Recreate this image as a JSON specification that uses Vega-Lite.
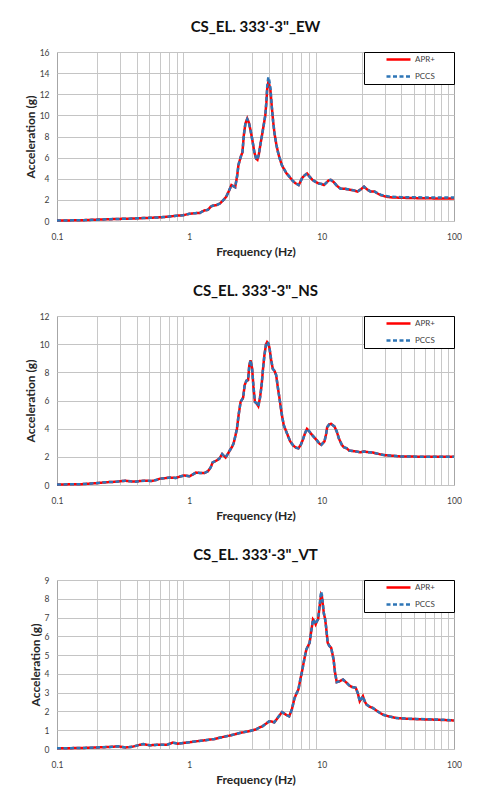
{
  "$schema": "https://vega.github.io/schema/vega-lite/v6.json",
  "background": "white",
  "padding": {"left": 23, "top": 19, "right": 0, "bottom": 0},
  "autosize": {"type": "pad"},
  "spacing": 95,
  "bounds": "flush",
  "config": {
    "font": "Lato",
    "view": {"stroke": "#a6a6a6", "strokeWidth": 1},
    "axis": {"labelFont": "Lato", "titleFont": "Lato", "labelFontSize": 8.5, "titleFontSize": 12, "titleFontWeight": "bold", "labelColor": "#404040", "titleColor": "#262626", "ticks": false, "domain": false, "gridColor": "#c4c4c4", "gridWidth": 1},
    "title": {"font": "Lato", "fontSize": 15, "fontWeight": "bold", "color": "#111111", "offset": 13, "frame": "group", "anchor": "middle"},
    "legend": {"orient": "top-right", "offset": 0, "strokeColor": "black", "fillColor": "white", "padding": 1, "symbolOffset": 20, "symbolType": "stroke", "symbolSize": 576, "symbolStrokeWidth": 2.5, "clipHeight": 13, "rowPadding": 4, "labelFont": "Lato", "labelFontSize": 8, "labelColor": "#404040", "labelOffset": 3, "titleOrient": "right", "titlePadding": 18, "titleFontSize": 4, "titleColor": "white"}
  },
  "resolve": {"scale": {"color": "independent", "strokeDash": "independent"}, "legend": {"color": "independent", "strokeDash": "independent"}},
  "datasets": {
    "ew": [
      {"f": 0.1, "APR+": 0.05, "PCCS": 0.05}, {"f": 0.13, "APR+": 0.06, "PCCS": 0.06}, {"f": 0.16, "APR+": 0.08, "PCCS": 0.08}, {"f": 0.2, "APR+": 0.13, "PCCS": 0.13}, {"f": 0.25, "APR+": 0.17, "PCCS": 0.17}, {"f": 0.3, "APR+": 0.2, "PCCS": 0.2}, {"f": 0.35, "APR+": 0.22, "PCCS": 0.22}, {"f": 0.4, "APR+": 0.25, "PCCS": 0.25}, {"f": 0.45, "APR+": 0.28, "PCCS": 0.28}, {"f": 0.5, "APR+": 0.3, "PCCS": 0.3}, {"f": 0.6, "APR+": 0.35, "PCCS": 0.35}, {"f": 0.7, "APR+": 0.42, "PCCS": 0.42}, {"f": 0.8, "APR+": 0.5, "PCCS": 0.5}, {"f": 0.9, "APR+": 0.55, "PCCS": 0.55}, {"f": 1.0, "APR+": 0.68, "PCCS": 0.68}, {"f": 1.1, "APR+": 0.74, "PCCS": 0.74}, {"f": 1.2, "APR+": 0.76, "PCCS": 0.76}, {"f": 1.25, "APR+": 0.9, "PCCS": 0.9}, {"f": 1.3, "APR+": 1.0, "PCCS": 1.0}, {"f": 1.38, "APR+": 1.05, "PCCS": 1.05}, {"f": 1.45, "APR+": 1.35, "PCCS": 1.35}, {"f": 1.5, "APR+": 1.45, "PCCS": 1.45}, {"f": 1.6, "APR+": 1.5, "PCCS": 1.5}, {"f": 1.7, "APR+": 1.65, "PCCS": 1.65}, {"f": 1.8, "APR+": 1.95, "PCCS": 1.95}, {"f": 1.9, "APR+": 2.3, "PCCS": 2.3}, {"f": 2.0, "APR+": 2.9, "PCCS": 2.9}, {"f": 2.08, "APR+": 3.4, "PCCS": 3.4}, {"f": 2.15, "APR+": 3.3, "PCCS": 3.3}, {"f": 2.22, "APR+": 3.2, "PCCS": 3.2}, {"f": 2.3, "APR+": 4.3, "PCCS": 4.3}, {"f": 2.35, "APR+": 5.3, "PCCS": 5.3}, {"f": 2.45, "APR+": 6.1, "PCCS": 6.1}, {"f": 2.52, "APR+": 6.5, "PCCS": 6.5}, {"f": 2.58, "APR+": 8.1, "PCCS": 8.1}, {"f": 2.65, "APR+": 9.2, "PCCS": 9.2}, {"f": 2.74, "APR+": 9.7, "PCCS": 9.65}, {"f": 2.82, "APR+": 9.3, "PCCS": 9.3}, {"f": 2.9, "APR+": 8.6, "PCCS": 8.6}, {"f": 3.0, "APR+": 7.6, "PCCS": 7.6}, {"f": 3.1, "APR+": 6.5, "PCCS": 6.5}, {"f": 3.2, "APR+": 5.9, "PCCS": 5.9}, {"f": 3.27, "APR+": 5.8, "PCCS": 5.8}, {"f": 3.35, "APR+": 6.3, "PCCS": 6.3}, {"f": 3.45, "APR+": 7.3, "PCCS": 7.3}, {"f": 3.55, "APR+": 8.2, "PCCS": 8.2}, {"f": 3.65, "APR+": 9.1, "PCCS": 9.1}, {"f": 3.75, "APR+": 10.0, "PCCS": 10.0}, {"f": 3.82, "APR+": 11.2, "PCCS": 11.3}, {"f": 3.88, "APR+": 12.6, "PCCS": 12.8}, {"f": 3.95, "APR+": 13.1, "PCCS": 13.6}, {"f": 4.02, "APR+": 12.9, "PCCS": 13.3}, {"f": 4.1, "APR+": 12.4, "PCCS": 12.6}, {"f": 4.2, "APR+": 10.8, "PCCS": 10.8}, {"f": 4.3, "APR+": 9.4, "PCCS": 9.4}, {"f": 4.4, "APR+": 8.3, "PCCS": 8.3}, {"f": 4.55, "APR+": 7.2, "PCCS": 7.2}, {"f": 4.7, "APR+": 6.4, "PCCS": 6.4}, {"f": 4.85, "APR+": 5.8, "PCCS": 5.8}, {"f": 5.0, "APR+": 5.3, "PCCS": 5.3}, {"f": 5.2, "APR+": 4.9, "PCCS": 4.9}, {"f": 5.4, "APR+": 4.55, "PCCS": 4.55}, {"f": 5.7, "APR+": 4.2, "PCCS": 4.2}, {"f": 6.0, "APR+": 3.85, "PCCS": 3.85}, {"f": 6.3, "APR+": 3.6, "PCCS": 3.6}, {"f": 6.7, "APR+": 3.4, "PCCS": 3.4}, {"f": 6.9, "APR+": 3.7, "PCCS": 3.7}, {"f": 7.1, "APR+": 4.05, "PCCS": 4.05}, {"f": 7.4, "APR+": 4.3, "PCCS": 4.3}, {"f": 7.75, "APR+": 4.5, "PCCS": 4.5}, {"f": 8.1, "APR+": 4.2, "PCCS": 4.2}, {"f": 8.5, "APR+": 3.9, "PCCS": 3.9}, {"f": 9.0, "APR+": 3.7, "PCCS": 3.7}, {"f": 9.5, "APR+": 3.55, "PCCS": 3.55}, {"f": 10.0, "APR+": 3.5, "PCCS": 3.5}, {"f": 10.4, "APR+": 3.4, "PCCS": 3.4}, {"f": 10.8, "APR+": 3.6, "PCCS": 3.6}, {"f": 11.3, "APR+": 3.85, "PCCS": 3.85}, {"f": 11.7, "APR+": 3.9, "PCCS": 3.9}, {"f": 12.3, "APR+": 3.7, "PCCS": 3.7}, {"f": 13.0, "APR+": 3.35, "PCCS": 3.35}, {"f": 13.9, "APR+": 3.05, "PCCS": 3.05}, {"f": 15.0, "APR+": 3.05, "PCCS": 3.05}, {"f": 16.5, "APR+": 2.95, "PCCS": 2.95}, {"f": 17.5, "APR+": 2.9, "PCCS": 2.9}, {"f": 18.6, "APR+": 2.78, "PCCS": 2.78}, {"f": 19.8, "APR+": 3.0, "PCCS": 3.0}, {"f": 20.9, "APR+": 3.25, "PCCS": 3.25}, {"f": 22.0, "APR+": 3.0, "PCCS": 3.0}, {"f": 23.5, "APR+": 2.78, "PCCS": 2.78}, {"f": 25.0, "APR+": 2.8, "PCCS": 2.8}, {"f": 26.5, "APR+": 2.6, "PCCS": 2.62}, {"f": 27.8, "APR+": 2.46, "PCCS": 2.5}, {"f": 30.0, "APR+": 2.33, "PCCS": 2.38}, {"f": 33.0, "APR+": 2.24, "PCCS": 2.3}, {"f": 40.0, "APR+": 2.2, "PCCS": 2.25}, {"f": 50.0, "APR+": 2.17, "PCCS": 2.24}, {"f": 70.0, "APR+": 2.14, "PCCS": 2.23}, {"f": 100.0, "APR+": 2.12, "PCCS": 2.22}
    ],
    "ns": [
      {"f": 0.1, "APR+": 0.04, "PCCS": 0.04}, {"f": 0.15, "APR+": 0.05, "PCCS": 0.05}, {"f": 0.19, "APR+": 0.12, "PCCS": 0.12}, {"f": 0.22, "APR+": 0.17, "PCCS": 0.17}, {"f": 0.25, "APR+": 0.21, "PCCS": 0.21}, {"f": 0.28, "APR+": 0.23, "PCCS": 0.23}, {"f": 0.31, "APR+": 0.28, "PCCS": 0.28}, {"f": 0.33, "APR+": 0.3, "PCCS": 0.3}, {"f": 0.36, "APR+": 0.26, "PCCS": 0.26}, {"f": 0.39, "APR+": 0.24, "PCCS": 0.24}, {"f": 0.42, "APR+": 0.28, "PCCS": 0.28}, {"f": 0.46, "APR+": 0.31, "PCCS": 0.31}, {"f": 0.52, "APR+": 0.28, "PCCS": 0.28}, {"f": 0.56, "APR+": 0.35, "PCCS": 0.35}, {"f": 0.6, "APR+": 0.45, "PCCS": 0.45}, {"f": 0.65, "APR+": 0.48, "PCCS": 0.48}, {"f": 0.71, "APR+": 0.53, "PCCS": 0.53}, {"f": 0.79, "APR+": 0.5, "PCCS": 0.5}, {"f": 0.85, "APR+": 0.6, "PCCS": 0.6}, {"f": 0.92, "APR+": 0.68, "PCCS": 0.68}, {"f": 1.0, "APR+": 0.62, "PCCS": 0.62}, {"f": 1.05, "APR+": 0.72, "PCCS": 0.72}, {"f": 1.12, "APR+": 0.88, "PCCS": 0.88}, {"f": 1.2, "APR+": 0.86, "PCCS": 0.86}, {"f": 1.3, "APR+": 0.85, "PCCS": 0.85}, {"f": 1.38, "APR+": 0.97, "PCCS": 0.97}, {"f": 1.45, "APR+": 1.25, "PCCS": 1.25}, {"f": 1.5, "APR+": 1.6, "PCCS": 1.6}, {"f": 1.6, "APR+": 1.73, "PCCS": 1.73}, {"f": 1.68, "APR+": 1.85, "PCCS": 1.85}, {"f": 1.77, "APR+": 2.2, "PCCS": 2.2}, {"f": 1.83, "APR+": 2.05, "PCCS": 2.05}, {"f": 1.88, "APR+": 1.95, "PCCS": 1.95}, {"f": 1.95, "APR+": 2.2, "PCCS": 2.2}, {"f": 2.02, "APR+": 2.45, "PCCS": 2.45}, {"f": 2.1, "APR+": 2.7, "PCCS": 2.7}, {"f": 2.16, "APR+": 2.95, "PCCS": 2.95}, {"f": 2.23, "APR+": 3.5, "PCCS": 3.5}, {"f": 2.29, "APR+": 4.0, "PCCS": 4.0}, {"f": 2.36, "APR+": 5.0, "PCCS": 5.0}, {"f": 2.44, "APR+": 5.9, "PCCS": 5.9}, {"f": 2.55, "APR+": 6.2, "PCCS": 6.2}, {"f": 2.62, "APR+": 7.1, "PCCS": 7.1}, {"f": 2.7, "APR+": 7.4, "PCCS": 7.4}, {"f": 2.78, "APR+": 7.45, "PCCS": 7.45}, {"f": 2.84, "APR+": 8.5, "PCCS": 8.5}, {"f": 2.9, "APR+": 8.85, "PCCS": 8.85}, {"f": 2.98, "APR+": 8.3, "PCCS": 8.3}, {"f": 3.05, "APR+": 7.0, "PCCS": 7.0}, {"f": 3.13, "APR+": 5.9, "PCCS": 5.9}, {"f": 3.22, "APR+": 5.8, "PCCS": 5.8}, {"f": 3.32, "APR+": 5.6, "PCCS": 5.6}, {"f": 3.42, "APR+": 6.2, "PCCS": 6.2}, {"f": 3.52, "APR+": 7.1, "PCCS": 7.1}, {"f": 3.6, "APR+": 8.2, "PCCS": 8.2}, {"f": 3.69, "APR+": 9.2, "PCCS": 9.2}, {"f": 3.8, "APR+": 10.0, "PCCS": 10.0}, {"f": 3.87, "APR+": 10.15, "PCCS": 10.15}, {"f": 3.95, "APR+": 10.05, "PCCS": 10.05}, {"f": 4.03, "APR+": 9.75, "PCCS": 9.75}, {"f": 4.15, "APR+": 8.9, "PCCS": 8.9}, {"f": 4.27, "APR+": 8.25, "PCCS": 8.25}, {"f": 4.4, "APR+": 8.1, "PCCS": 8.1}, {"f": 4.53, "APR+": 7.8, "PCCS": 7.8}, {"f": 4.67, "APR+": 6.9, "PCCS": 6.9}, {"f": 4.81, "APR+": 6.1, "PCCS": 6.1}, {"f": 5.0, "APR+": 5.0, "PCCS": 5.0}, {"f": 5.17, "APR+": 4.25, "PCCS": 4.25}, {"f": 5.45, "APR+": 3.7, "PCCS": 3.7}, {"f": 5.78, "APR+": 3.1, "PCCS": 3.1}, {"f": 6.1, "APR+": 2.8, "PCCS": 2.8}, {"f": 6.4, "APR+": 2.65, "PCCS": 2.65}, {"f": 6.67, "APR+": 2.6, "PCCS": 2.6}, {"f": 6.95, "APR+": 2.85, "PCCS": 2.85}, {"f": 7.2, "APR+": 3.2, "PCCS": 3.2}, {"f": 7.5, "APR+": 3.7, "PCCS": 3.7}, {"f": 7.74, "APR+": 3.98, "PCCS": 3.98}, {"f": 8.0, "APR+": 3.85, "PCCS": 3.85}, {"f": 8.3, "APR+": 3.65, "PCCS": 3.65}, {"f": 8.75, "APR+": 3.4, "PCCS": 3.4}, {"f": 9.24, "APR+": 3.15, "PCCS": 3.15}, {"f": 9.6, "APR+": 2.95, "PCCS": 2.95}, {"f": 9.93, "APR+": 2.85, "PCCS": 2.85}, {"f": 10.5, "APR+": 3.1, "PCCS": 3.1}, {"f": 10.8, "APR+": 3.6, "PCCS": 3.6}, {"f": 11.0, "APR+": 4.1, "PCCS": 4.1}, {"f": 11.4, "APR+": 4.3, "PCCS": 4.3}, {"f": 11.8, "APR+": 4.34, "PCCS": 4.34}, {"f": 12.5, "APR+": 4.15, "PCCS": 4.15}, {"f": 13.0, "APR+": 3.8, "PCCS": 3.8}, {"f": 13.5, "APR+": 3.3, "PCCS": 3.3}, {"f": 14.2, "APR+": 2.85, "PCCS": 2.85}, {"f": 14.7, "APR+": 2.68, "PCCS": 2.68}, {"f": 15.5, "APR+": 2.6, "PCCS": 2.6}, {"f": 16.1, "APR+": 2.45, "PCCS": 2.45}, {"f": 17.5, "APR+": 2.4, "PCCS": 2.4}, {"f": 18.6, "APR+": 2.37, "PCCS": 2.37}, {"f": 19.5, "APR+": 2.32, "PCCS": 2.32}, {"f": 20.9, "APR+": 2.38, "PCCS": 2.38}, {"f": 22.0, "APR+": 2.34, "PCCS": 2.34}, {"f": 24.5, "APR+": 2.3, "PCCS": 2.3}, {"f": 27.6, "APR+": 2.18, "PCCS": 2.18}, {"f": 30.0, "APR+": 2.12, "PCCS": 2.12}, {"f": 35.0, "APR+": 2.07, "PCCS": 2.07}, {"f": 40.0, "APR+": 2.02, "PCCS": 2.02}, {"f": 60.0, "APR+": 2.01, "PCCS": 2.01}, {"f": 100.0, "APR+": 2.0, "PCCS": 2.0}
    ],
    "vt": [
      {"f": 0.1, "APR+": 0.04, "PCCS": 0.04}, {"f": 0.15, "APR+": 0.05, "PCCS": 0.05}, {"f": 0.2, "APR+": 0.08, "PCCS": 0.08}, {"f": 0.25, "APR+": 0.11, "PCCS": 0.11}, {"f": 0.29, "APR+": 0.14, "PCCS": 0.14}, {"f": 0.33, "APR+": 0.08, "PCCS": 0.08}, {"f": 0.37, "APR+": 0.12, "PCCS": 0.12}, {"f": 0.42, "APR+": 0.22, "PCCS": 0.22}, {"f": 0.45, "APR+": 0.26, "PCCS": 0.26}, {"f": 0.5, "APR+": 0.2, "PCCS": 0.2}, {"f": 0.59, "APR+": 0.23, "PCCS": 0.23}, {"f": 0.68, "APR+": 0.23, "PCCS": 0.23}, {"f": 0.75, "APR+": 0.34, "PCCS": 0.34}, {"f": 0.82, "APR+": 0.28, "PCCS": 0.28}, {"f": 0.92, "APR+": 0.33, "PCCS": 0.33}, {"f": 1.0, "APR+": 0.36, "PCCS": 0.36}, {"f": 1.1, "APR+": 0.4, "PCCS": 0.4}, {"f": 1.19, "APR+": 0.43, "PCCS": 0.43}, {"f": 1.3, "APR+": 0.46, "PCCS": 0.46}, {"f": 1.42, "APR+": 0.5, "PCCS": 0.5}, {"f": 1.55, "APR+": 0.53, "PCCS": 0.53}, {"f": 1.69, "APR+": 0.6, "PCCS": 0.6}, {"f": 1.85, "APR+": 0.66, "PCCS": 0.66}, {"f": 2.0, "APR+": 0.71, "PCCS": 0.71}, {"f": 2.2, "APR+": 0.78, "PCCS": 0.78}, {"f": 2.4, "APR+": 0.85, "PCCS": 0.85}, {"f": 2.6, "APR+": 0.9, "PCCS": 0.9}, {"f": 2.87, "APR+": 0.96, "PCCS": 0.96}, {"f": 3.2, "APR+": 1.05, "PCCS": 1.05}, {"f": 3.4, "APR+": 1.15, "PCCS": 1.15}, {"f": 3.57, "APR+": 1.21, "PCCS": 1.21}, {"f": 3.8, "APR+": 1.35, "PCCS": 1.35}, {"f": 4.02, "APR+": 1.48, "PCCS": 1.48}, {"f": 4.2, "APR+": 1.46, "PCCS": 1.46}, {"f": 4.39, "APR+": 1.42, "PCCS": 1.42}, {"f": 4.7, "APR+": 1.7, "PCCS": 1.7}, {"f": 5.01, "APR+": 1.96, "PCCS": 1.96}, {"f": 5.2, "APR+": 1.9, "PCCS": 1.9}, {"f": 5.36, "APR+": 1.83, "PCCS": 1.83}, {"f": 5.68, "APR+": 1.74, "PCCS": 1.74}, {"f": 5.95, "APR+": 2.1, "PCCS": 2.1}, {"f": 6.23, "APR+": 2.7, "PCCS": 2.7}, {"f": 6.45, "APR+": 2.95, "PCCS": 2.95}, {"f": 6.67, "APR+": 3.17, "PCCS": 3.17}, {"f": 6.9, "APR+": 3.7, "PCCS": 3.7}, {"f": 7.15, "APR+": 4.23, "PCCS": 4.23}, {"f": 7.4, "APR+": 4.8, "PCCS": 4.8}, {"f": 7.66, "APR+": 5.3, "PCCS": 5.3}, {"f": 8.11, "APR+": 5.66, "PCCS": 5.66}, {"f": 8.35, "APR+": 6.3, "PCCS": 6.3}, {"f": 8.6, "APR+": 6.9, "PCCS": 6.9}, {"f": 8.8, "APR+": 6.8, "PCCS": 6.8}, {"f": 9.0, "APR+": 6.64, "PCCS": 6.64}, {"f": 9.2, "APR+": 6.8, "PCCS": 6.8}, {"f": 9.4, "APR+": 6.9, "PCCS": 6.9}, {"f": 9.65, "APR+": 7.6, "PCCS": 7.7}, {"f": 9.9, "APR+": 8.2, "PCCS": 8.38}, {"f": 10.05, "APR+": 8.1, "PCCS": 8.2}, {"f": 10.2, "APR+": 7.7, "PCCS": 7.75}, {"f": 10.4, "APR+": 7.2, "PCCS": 7.2}, {"f": 10.6, "APR+": 6.95, "PCCS": 6.95}, {"f": 10.8, "APR+": 6.5, "PCCS": 6.5}, {"f": 11.1, "APR+": 5.66, "PCCS": 5.66}, {"f": 11.4, "APR+": 5.5, "PCCS": 5.5}, {"f": 11.8, "APR+": 5.39, "PCCS": 5.39}, {"f": 12.3, "APR+": 4.77, "PCCS": 4.77}, {"f": 12.6, "APR+": 4.1, "PCCS": 4.1}, {"f": 13.0, "APR+": 3.56, "PCCS": 3.56}, {"f": 13.6, "APR+": 3.6, "PCCS": 3.6}, {"f": 14.5, "APR+": 3.7, "PCCS": 3.7}, {"f": 15.3, "APR+": 3.55, "PCCS": 3.55}, {"f": 16.2, "APR+": 3.38, "PCCS": 3.38}, {"f": 17.0, "APR+": 3.3, "PCCS": 3.3}, {"f": 18.1, "APR+": 3.26, "PCCS": 3.26}, {"f": 18.8, "APR+": 2.95, "PCCS": 2.95}, {"f": 19.4, "APR+": 2.54, "PCCS": 2.54}, {"f": 20.5, "APR+": 2.81, "PCCS": 2.81}, {"f": 21.1, "APR+": 2.55, "PCCS": 2.55}, {"f": 21.8, "APR+": 2.37, "PCCS": 2.37}, {"f": 23.0, "APR+": 2.25, "PCCS": 2.25}, {"f": 24.3, "APR+": 2.19, "PCCS": 2.19}, {"f": 26.5, "APR+": 2.0, "PCCS": 2.0}, {"f": 29.0, "APR+": 1.83, "PCCS": 1.83}, {"f": 32.0, "APR+": 1.74, "PCCS": 1.74}, {"f": 36.7, "APR+": 1.65, "PCCS": 1.65}, {"f": 46.4, "APR+": 1.6, "PCCS": 1.61}, {"f": 65.6, "APR+": 1.57, "PCCS": 1.58}, {"f": 80.0, "APR+": 1.55, "PCCS": 1.56}, {"f": 100.0, "APR+": 1.52, "PCCS": 1.53}
    ]
  },
  "vconcat": [
    {
      "width": 397, "height": 169,
      "title": "CS_EL. 333'-3\"_EW",
      "data": {"name": "ew"},
      "transform": [{"fold": ["APR+", "PCCS"], "as": ["series", "acc"]}],
      "resolve": {"axis": {"x": "independent"}},
      "layer": [
        {
          "transform": [{"filter": "datum.series == 'APR+'"}],
          "mark": {"type": "line", "strokeWidth": 2.5},
          "encoding": {
            "x": {"field": "f", "type": "quantitative", "scale": {"type": "log", "domain": [0.1, 100], "nice": false}, "axis": {"orient": "bottom", "values": [0.2, 0.3, 0.4, 0.5, 0.6, 0.7, 0.8, 0.9, 2, 3, 4, 5, 6, 7, 8, 9, 20, 30, 40, 50, 60, 70, 80, 90], "labels": false, "title": null, "gridColor": "#c8c8c8"}},
            "y": {"field": "acc", "type": "quantitative", "scale": {"domain": [0, 16], "nice": false}, "axis": {"values": [0, 2, 4, 6, 8, 10, 12, 14, 16], "title": "Acceleration (g)", "labelPadding": 8, "titlePadding": 2}},
            "color": {"field": "series", "type": "nominal", "scale": {"domain": ["APR+", "PCCS"], "range": ["#ff0000", "#2e75b6"]}, "legend": {"title": "\u00a0"}},
            "strokeDash": {"field": "series", "type": "nominal", "scale": {"domain": ["APR+", "PCCS"], "range": [[1, 0], [4, 2.5]]}, "legend": {"title": "\u00a0"}}
          }
        },
        {
          "transform": [{"filter": "datum.series == 'PCCS'"}],
          "mark": {"type": "line", "strokeWidth": 2.5},
          "encoding": {
            "x": {"field": "f", "type": "quantitative", "scale": {"type": "log", "domain": [0.1, 100], "nice": false}, "axis": {"orient": "bottom", "values": [0.1, 1, 10, 100], "format": "~g", "labelFlush": false, "labelPadding": 11, "title": "Frequency (Hz)", "titlePadding": 6, "gridColor": "#8c8c8c"}},
            "y": {"field": "acc", "type": "quantitative", "scale": {"domain": [0, 16], "nice": false}, "axis": {"values": [0, 2, 4, 6, 8, 10, 12, 14, 16], "title": "Acceleration (g)", "labelPadding": 8, "titlePadding": 2}},
            "color": {"field": "series", "type": "nominal", "scale": {"domain": ["APR+", "PCCS"], "range": ["#ff0000", "#2e75b6"]}, "legend": {"title": "\u00a0"}},
            "strokeDash": {"field": "series", "type": "nominal", "scale": {"domain": ["APR+", "PCCS"], "range": [[1, 0], [4, 2.5]]}, "legend": {"title": "\u00a0"}}
          }
        }
      ]
    },
    {
      "width": 397, "height": 169,
      "title": "CS_EL. 333'-3\"_NS",
      "data": {"name": "ns"},
      "transform": [{"fold": ["APR+", "PCCS"], "as": ["series", "acc"]}],
      "resolve": {"axis": {"x": "independent"}},
      "layer": [
        {
          "transform": [{"filter": "datum.series == 'APR+'"}],
          "mark": {"type": "line", "strokeWidth": 2.5},
          "encoding": {
            "x": {"field": "f", "type": "quantitative", "scale": {"type": "log", "domain": [0.1, 100], "nice": false}, "axis": {"orient": "bottom", "values": [0.2, 0.3, 0.4, 0.5, 0.6, 0.7, 0.8, 0.9, 2, 3, 4, 5, 6, 7, 8, 9, 20, 30, 40, 50, 60, 70, 80, 90], "labels": false, "title": null, "gridColor": "#c8c8c8"}},
            "y": {"field": "acc", "type": "quantitative", "scale": {"domain": [0, 12], "nice": false}, "axis": {"values": [0, 2, 4, 6, 8, 10, 12], "title": "Acceleration (g)", "labelPadding": 8, "titlePadding": 2}},
            "color": {"field": "series", "type": "nominal", "scale": {"domain": ["APR+", "PCCS"], "range": ["#ff0000", "#2e75b6"]}, "legend": {"title": "\u00a0"}},
            "strokeDash": {"field": "series", "type": "nominal", "scale": {"domain": ["APR+", "PCCS"], "range": [[1, 0], [4, 2.5]]}, "legend": {"title": "\u00a0"}}
          }
        },
        {
          "transform": [{"filter": "datum.series == 'PCCS'"}],
          "mark": {"type": "line", "strokeWidth": 2.5},
          "encoding": {
            "x": {"field": "f", "type": "quantitative", "scale": {"type": "log", "domain": [0.1, 100], "nice": false}, "axis": {"orient": "bottom", "values": [0.1, 1, 10, 100], "format": "~g", "labelFlush": false, "labelPadding": 11, "title": "Frequency (Hz)", "titlePadding": 6, "gridColor": "#8c8c8c"}},
            "y": {"field": "acc", "type": "quantitative", "scale": {"domain": [0, 12], "nice": false}, "axis": {"values": [0, 2, 4, 6, 8, 10, 12], "title": "Acceleration (g)", "labelPadding": 8, "titlePadding": 2}},
            "color": {"field": "series", "type": "nominal", "scale": {"domain": ["APR+", "PCCS"], "range": ["#ff0000", "#2e75b6"]}, "legend": {"title": "\u00a0"}},
            "strokeDash": {"field": "series", "type": "nominal", "scale": {"domain": ["APR+", "PCCS"], "range": [[1, 0], [4, 2.5]]}, "legend": {"title": "\u00a0"}}
          }
        }
      ]
    },
    {
      "width": 397, "height": 169,
      "title": "CS_EL. 333'-3\"_VT",
      "data": {"name": "vt"},
      "transform": [{"fold": ["APR+", "PCCS"], "as": ["series", "acc"]}],
      "resolve": {"axis": {"x": "independent"}},
      "layer": [
        {
          "transform": [{"filter": "datum.series == 'APR+'"}],
          "mark": {"type": "line", "strokeWidth": 2.5},
          "encoding": {
            "x": {"field": "f", "type": "quantitative", "scale": {"type": "log", "domain": [0.1, 100], "nice": false}, "axis": {"orient": "bottom", "values": [0.2, 0.3, 0.4, 0.5, 0.6, 0.7, 0.8, 0.9, 2, 3, 4, 5, 6, 7, 8, 9, 20, 30, 40, 50, 60, 70, 80, 90], "labels": false, "title": null, "gridColor": "#c8c8c8"}},
            "y": {"field": "acc", "type": "quantitative", "scale": {"domain": [0, 9], "nice": false}, "axis": {"values": [0, 1, 2, 3, 4, 5, 6, 7, 8, 9], "title": "Acceleration (g)", "labelPadding": 8, "titlePadding": 2}},
            "color": {"field": "series", "type": "nominal", "scale": {"domain": ["APR+", "PCCS"], "range": ["#ff0000", "#2e75b6"]}, "legend": {"title": "\u00a0"}},
            "strokeDash": {"field": "series", "type": "nominal", "scale": {"domain": ["APR+", "PCCS"], "range": [[1, 0], [4, 2.5]]}, "legend": {"title": "\u00a0"}}
          }
        },
        {
          "transform": [{"filter": "datum.series == 'PCCS'"}],
          "mark": {"type": "line", "strokeWidth": 2.5},
          "encoding": {
            "x": {"field": "f", "type": "quantitative", "scale": {"type": "log", "domain": [0.1, 100], "nice": false}, "axis": {"orient": "bottom", "values": [0.1, 1, 10, 100], "format": "~g", "labelFlush": false, "labelPadding": 11, "title": "Frequency (Hz)", "titlePadding": 6, "gridColor": "#8c8c8c"}},
            "y": {"field": "acc", "type": "quantitative", "scale": {"domain": [0, 9], "nice": false}, "axis": {"values": [0, 1, 2, 3, 4, 5, 6, 7, 8, 9], "title": "Acceleration (g)", "labelPadding": 8, "titlePadding": 2}},
            "color": {"field": "series", "type": "nominal", "scale": {"domain": ["APR+", "PCCS"], "range": ["#ff0000", "#2e75b6"]}, "legend": {"title": "\u00a0"}},
            "strokeDash": {"field": "series", "type": "nominal", "scale": {"domain": ["APR+", "PCCS"], "range": [[1, 0], [4, 2.5]]}, "legend": {"title": "\u00a0"}}
          }
        }
      ]
    }
  ]
}
